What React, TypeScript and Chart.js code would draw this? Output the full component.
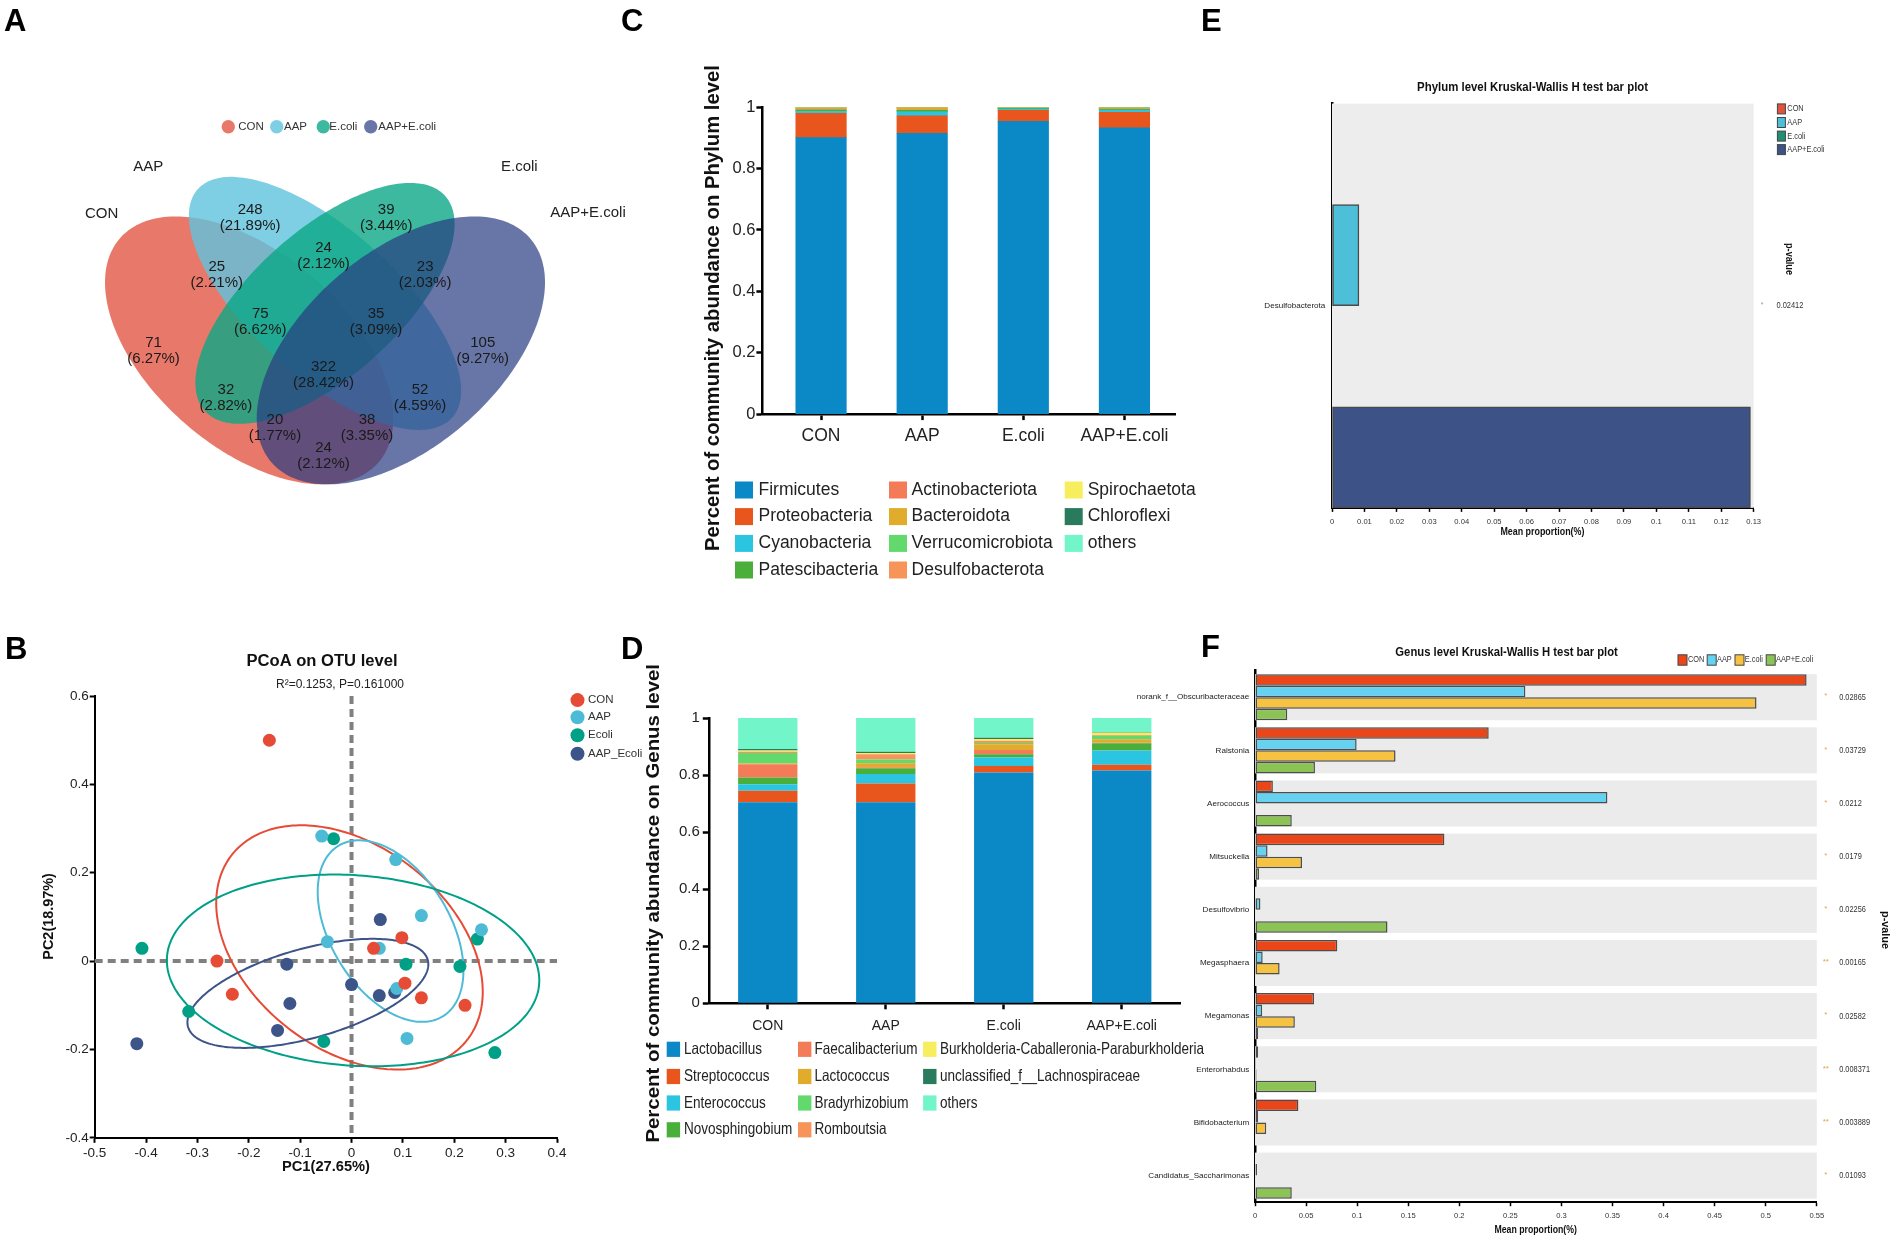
import React, { useEffect, useRef } from "react";
import { Chart, registerables } from "chart.js";

Chart.register(...registerables);

/* ========================= DATA ========================= */

// ---- A: Venn diagram of OTUs ----
const vennSets = ["CON", "AAP", "E.coli", "AAP+E.coli"];
const vennCounts = [248, 39, 24, 25, 23, 75, 35, 71, 105, 322, 32, 52, 20, 38, 24];
const vennPercents = ["21.89%", "3.44%", "2.12%", "2.21%", "2.03%", "6.62%", "3.09%", "6.27%", "9.27%", "28.42%", "2.82%", "4.59%", "1.77%", "3.35%", "2.12%"];
// region label anchors (venn unit space)
const vennLabelX = [0.352, 0.621, 0.497, 0.286, 0.698, 0.372, 0.601, 0.161, 0.812, 0.497, 0.304, 0.688, 0.401, 0.583, 0.497];
const vennLabelY = [0.752, 0.752, 0.672, 0.63, 0.63, 0.53, 0.53, 0.469, 0.469, 0.418, 0.368, 0.368, 0.306, 0.306, 0.245];
// ellipse shapes: [cx, cy, semi-axis a, semi-axis b, angle deg]
const vennEllipses = [
  [0.35, 0.47, 0.35, 0.2, 135],
  [0.5, 0.57, 0.35, 0.15, 135],
  [0.5, 0.57, 0.33, 0.15, 45],
  [0.65, 0.47, 0.35, 0.2, 45],
];

// ---- B: PCoA ----
const pcoaGroups = ["CON", "AAP", "Ecoli", "AAP_Ecoli"];
const pcoaCON = [[-0.16, 0.5], [-0.262, 0.0], [-0.232, -0.075], [0.043, 0.029], [0.098, 0.053], [0.104, -0.05], [0.136, -0.083], [0.221, -0.1]];
const pcoaAAP = [[-0.058, 0.283], [0.086, 0.23], [0.136, 0.103], [0.253, 0.071], [-0.047, 0.044], [0.054, 0.029], [0.088, -0.062], [0.108, -0.175]];
const pcoaEcoli = [[-0.035, 0.277], [-0.408, 0.029], [-0.317, -0.114], [-0.054, -0.182], [0.106, -0.007], [0.211, -0.012], [0.245, 0.05], [0.279, -0.207]];
const pcoaAAPEcoli = [[0.056, 0.094], [-0.126, -0.007], [-0.12, -0.096], [-0.144, -0.157], [-0.418, -0.187], [0.0, -0.053], [0.054, -0.078], [0.084, -0.071]];
// confidence ellipses: [cx, cy, a, b, angle deg] in data units
const pcoaEllipses = [
  [-0.004, 0.031, 0.3135, 0.2133, -50],
  [0.076, 0.068, 0.219, 0.12, -65.6],
  [0.003, -0.021, 0.3636, 0.2152, -5.5],
  [-0.085, -0.073, 0.2455, 0.0998, 18.9],
];

// ---- C: phylum composition ----
const phylumGroups = ["CON", "AAP", "E.coli", "AAP+E.coli"];
const phylumTaxa = ["Firmicutes", "Proteobacteria", "Cyanobacteria", "Patescibacteria", "Actinobacteriota", "Bacteroidota", "Verrucomicrobiota", "Desulfobacterota", "Spirochaetota", "Chloroflexi", "others"];
const phylumFirmicutes = [0.901, 0.915, 0.954, 0.933];
const phylumProteobacteria = [0.079, 0.057, 0.036, 0.05];
const phylumCyanobacteria = [0.006, 0.013, 0.004, 0.008];
const phylumPatescibacteria = [0.004, 0.005, 0.002, 0.002];
const phylumActinobacteriota = [0.002, 0.001, 0.0005, 0.001];
const phylumBacteroidota = [0.003, 0.006, 0.0005, 0.002];
const phylumVerrucomicrobiota = [0.002, 0.001, 0.001, 0.002];
const phylumDesulfobacterota = [0.001, 0.001, 0.0005, 0.0005];
const phylumSpirochaetota = [0.001, 0.0005, 0.0003, 0.0005];
const phylumChloroflexi = [0.0005, 0.0003, 0.0002, 0.0005];
const phylumOthers = [0.0005, 0.0002, 0.001, 0.0005];

// ---- D: genus composition ----
const genusGroups = ["CON", "AAP", "E.coli", "AAP+E.coli"];
const genusTaxa = ["Lactobacillus", "Streptococcus", "Enterococcus", "Novosphingobium", "Faecalibacterium", "Lactococcus", "Bradyrhizobium", "Romboutsia", "Burkholderia-Caballeronia-Paraburkholderia", "unclassified_f__Lachnospiraceae", "others"];
const genusLactobacillus = [0.705, 0.705, 0.809, 0.816];
const genusStreptococcus = [0.04, 0.066, 0.023, 0.02];
const genusEnterococcus = [0.023, 0.033, 0.031, 0.05];
const genusNovosphingobium = [0.024, 0.02, 0.01, 0.026];
const genusFaecalibacterium = [0.046, 0.004, 0.015, 0.002];
const genusLactococcus = [0.003, 0.014, 0.02, 0.012];
const genusBradyrhizobium = [0.037, 0.013, 0.005, 0.012];
const genusRomboutsia = [0.004, 0.018, 0.008, 0.003];
const genusBurkholderia = [0.004, 0.005, 0.006, 0.008];
const genusLachnospiraceae = [0.006, 0.004, 0.004, 0.001];
const genusOthers = [0.108, 0.118, 0.069, 0.05];

// ---- E: phylum Kruskal-Wallis ----
const kwGroups = ["CON", "AAP", "E.coli", "AAP+E.coli"];
const kwPhylumTaxa = ["Desulfobacterota"];
const kwPhylumCON = [0];
const kwPhylumAAP = [0.0083];
const kwPhylumEcoli = [0];
const kwPhylumAAPEcoli = [0.129];
const kwPhylumP = ["0.02412"];
const kwPhylumStars = ["*"];
const kwPhylumTicks = { min: 0, max: 0.13, step: 0.01 };

// ---- F: genus Kruskal-Wallis ----
const kwGenusTaxa = ["norank_f__Obscuribacteraceae", "Ralstonia", "Aerococcus", "Mitsuckella", "Desulfovibrio", "Megasphaera", "Megamonas", "Enterorhabdus", "Bifidobacterium", "Candidatus_Saccharimonas"];
const kwGenusCON = [0.54, 0.2288, 0.0175, 0.1854, 0, 0.0806, 0.0578, 0.003, 0.0425, 0];
const kwGenusAAP = [0.2647, 0.0995, 0.345, 0.0123, 0.0053, 0.0075, 0.007, 0.001, 0.003, 0.002];
const kwGenusEcoli = [0.491, 0.1376, 0.001, 0.046, 0, 0.0241, 0.039, 0.0015, 0.011, 0];
const kwGenusAAPEcoli = [0.0316, 0.0587, 0.036, 0.004, 0.1297, 0, 0.003, 0.06, 0, 0.036];
const kwGenusP = ["0.02865", "0.03729", "0.0212", "0.0179", "0.02256", "0.00165", "0.02582", "0.008371", "0.003889", "0.01093"];
const kwGenusStars = ["*", "*", "*", "*", "*", "**", "*", "**", "**", "*"];
const kwGenusTicks = { min: 0, max: 0.55, step: 0.05 };

/* ========================= STYLE ========================= */
const SANS = "'Liberation Sans', Arial, Helvetica, sans-serif";
let NARROW_OK: boolean | null = null;
function narrowOk() {
  if (NARROW_OK === null) {
    const c = document.createElement("canvas").getContext("2d");
    if (!c) return (NARROW_OK = false);
    const s = "abcdefghijklmnopqrstuvwxyzABCDEFGHIJ0123456789";
    c.font = "20px monospace";
    const w1 = c.measureText(s).width;
    c.font = "20px 'Liberation Sans Narrow', monospace";
    const w2 = c.measureText(s).width;
    NARROW_OK = Math.abs(w1 - w2) > 0.5;
  }
  return NARROW_OK;
}
const narrowFamily = () => (narrowOk() ? "'Liberation Sans Narrow', 'Arial Narrow', sans-serif" : SANS);
// size for a Chart.js tick font meant to be condensed (smaller when no narrow face exists)
const nSize = (s: number) => (narrowOk() ? s : s * 0.85);

const vennFill = ["rgba(226,88,69,0.8)", "rgba(95,195,221,0.8)", "rgba(11,168,134,0.8)", "rgba(40,60,130,0.7)"];
const pcoaColors = ["#E64B35", "#4DBBD5", "#00A087", "#3C5488"];
const compColors = ["#0A89C6", "#E8561E", "#2BC5E2", "#4AAE3B", "#F47B58", "#E1AB2C", "#62D96C", "#F7945A", "#F6EE5C", "#2A7A5E", "#72F5C8"];
const kwPhylumColors = ["#E0533D", "#4DBFD9", "#1F8F76", "#3D5286"];
const kwGenusColors = ["#EB4619", "#64D2F0", "#F5C341", "#8CC355"];

const PA = { x: 0, y: 0, w: 680, h: 610 };
const PB = { x: 0, y: 610, w: 680, h: 638 };
const PC = { x: 620, y: 0, w: 580, h: 610 };
const PD = { x: 620, y: 610, w: 600, h: 638 };
const PE = { x: 1200, y: 0, w: 702, h: 610 };
const PF = { x: 1080, y: 610, w: 822, h: 638 };

/* ========================= HELPERS ========================= */
type Txt = { t: string; x: number; y: number; size: number; bold?: boolean; narrow?: boolean; color?: string; align?: CanvasTextAlign; rot?: number; fit?: number };

function drawTexts(ctx: CanvasRenderingContext2D, P: any, list: Txt[]) {
  list.forEach((it) => {
    ctx.save();
    ctx.translate(it.x - P.x, it.y - P.y);
    if (it.rot) ctx.rotate((it.rot * Math.PI) / 180);
    ctx.font = `${it.bold ? "bold " : ""}${it.size}px ${it.narrow ? narrowFamily() : SANS}`;
    ctx.fillStyle = it.color || "#111";
    ctx.textAlign = it.align || "center";
    ctx.textBaseline = "middle";
    let sx = 1;
    if (it.fit) {
      const w = ctx.measureText(it.t).width;
      if (w > 0) sx = it.fit / w;
    } else if (it.narrow && !narrowOk()) sx = 0.82;
    if (sx !== 1) ctx.scale(sx, 1);
    ctx.fillText(it.t, 0, 0);
    ctx.restore();
  });
}

function pad(P: any, a: any, wy: number, hx: number) {
  return { left: a.l - P.x - wy, right: P.x + P.w - a.r, top: a.t - P.y, bottom: P.y + P.h - a.b - hx };
}

function ellipsePath(ctx: CanvasRenderingContext2D, xs: any, ys: any, e: number[]) {
  const [cx, cy, a, b, ang] = e;
  const th = (ang * Math.PI) / 180;
  ctx.beginPath();
  for (let k = 0; k <= 240; k++) {
    const t = (k / 240) * Math.PI * 2;
    const ux = cx + a * Math.cos(t) * Math.cos(th) - b * Math.sin(t) * Math.sin(th);
    const uy = cy + a * Math.cos(t) * Math.sin(th) + b * Math.sin(t) * Math.cos(th);
    const px = xs.getPixelForValue(ux);
    const py = ys.getPixelForValue(uy);
    if (k === 0) ctx.moveTo(px, py);
    else ctx.lineTo(px, py);
  }
  ctx.closePath();
}

const fmt = (v: any) => String(Number(Number(v).toFixed(4)));

function common(padding: any) {
  return {
    animation: false as const,
    responsive: false,
    maintainAspectRatio: false,
    events: [] as any[],
    layout: { padding },
    plugins: { legend: { display: false }, tooltip: { enabled: false }, title: { display: false } },
  };
}

/* ========================= PANEL A ========================= */
function makeA(canvas: HTMLCanvasElement) {
  const P = PA;
  const area = { l: 72.15, r: 577.85, t: 101.3, b: 571.3 };
  return new Chart(canvas, {
    type: "scatter",
    data: { datasets: [{ data: vennLabelX.map((x, i) => ({ x, y: vennLabelY[i] })), pointRadius: 0 }] },
    options: {
      ...common(pad(P, area, 0, 0)),
      scales: {
        x: { type: "linear", display: false, min: 0, max: 1 },
        y: { type: "linear", display: false, min: 0, max: 1 },
      },
    } as any,
    plugins: [
      {
        id: "vennA",
        beforeDatasetsDraw(chart: any) {
          const { ctx, scales } = chart;
          vennEllipses.forEach((e, i) => {
            ctx.save();
            ellipsePath(ctx, scales.x, scales.y, e);
            ctx.fillStyle = vennFill[i];
            ctx.fill();
            ctx.restore();
          });
        },
        afterDatasetsDraw(chart: any) {
          const ctx = chart.ctx;
          const meta = chart.getDatasetMeta(0);
          ctx.save();
          ctx.font = `15px ${SANS}`;
          ctx.fillStyle = "#1a1a1a";
          ctx.textAlign = "center";
          ctx.textBaseline = "middle";
          meta.data.forEach((pt: any, i: number) => {
            ctx.fillText(String(vennCounts[i]), pt.x, pt.y - 8);
            ctx.fillText(`(${vennPercents[i]})`, pt.x, pt.y + 8);
          });
          ctx.restore();
        },
        afterDraw(chart: any) {
          const ctx = chart.ctx;
          drawTexts(ctx, P, [
            { t: "A", x: 4, y: 22, size: 31, bold: true, align: "left", color: "#000" },
            { t: vennSets[1], x: 148.3, y: 166.7, size: 15, color: "#222" },
            { t: vennSets[2], x: 519.3, y: 166.7, size: 15, color: "#222" },
            { t: vennSets[0], x: 101.7, y: 214, size: 15, color: "#222" },
            { t: vennSets[3], x: 588, y: 213.3, size: 15, color: "#222" },
          ]);
          const cxs = [228.3, 276.7, 323.3, 370.7];
          const txs = [238.3, 284, 329.3, 378.3];
          vennSets.forEach((s, i) => {
            ctx.save();
            ctx.beginPath();
            ctx.arc(cxs[i] - P.x, 126.7 - P.y, 6.7, 0, Math.PI * 2);
            ctx.fillStyle = vennFill[i];
            ctx.fill();
            ctx.restore();
          });
          drawTexts(ctx, P, vennSets.map((s, i) => ({ t: s, x: txs[i], y: 126.7, size: 11.5, align: "left" as CanvasTextAlign, color: "#333" })));
        },
      },
    ],
  });
}

/* ========================= PANEL B ========================= */
function axisStyle(extra: any) {
  return {
    border: { display: true, color: "#000", width: 2 },
    grid: { display: true, drawOnChartArea: false, drawTicks: true, tickLength: 5, tickColor: "#000", tickWidth: 2 },
    ...extra,
  };
}

function makeB(canvas: HTMLCanvasElement) {
  const P = PB;
  const area = { l: 94.7, r: 557, t: 696.1, b: 1137.8 };
  const series = [pcoaCON, pcoaAAP, pcoaEcoli, pcoaAAPEcoli];
  return new Chart(canvas, {
    type: "scatter",
    data: {
      datasets: series.map((pts, k) => ({
        label: pcoaGroups[k],
        data: pts.map(([x, y]) => ({ x, y })),
        pointRadius: 6.5,
        pointBackgroundColor: pcoaColors[k],
        pointBorderWidth: 0,
      })),
    },
    options: {
      ...common(pad(P, area, 50, 30)),
      scales: {
        x: axisStyle({
          type: "linear",
          min: -0.5,
          max: 0.4,
          bounds: "data",
          ticks: { stepSize: 0.1, callback: fmt, font: { family: SANS, size: 13.5 }, color: "#222", padding: 2, maxRotation: 0, autoSkip: false },
          afterFit: (s: any) => { s.height = 30; },
        }),
        y: axisStyle({
          type: "linear",
          min: -0.4,
          max: 0.6,
          bounds: "data",
          ticks: { stepSize: 0.2, callback: fmt, font: { family: SANS, size: 13.5 }, color: "#222", padding: 1 },
          afterFit: (s: any) => { s.width = 50; },
        }),
      },
    } as any,
    plugins: [
      {
        id: "pcoaB",
        beforeDatasetsDraw(chart: any) {
          const { ctx, scales, chartArea } = chart;
          const x0 = scales.x.getPixelForValue(0);
          const y0 = scales.y.getPixelForValue(0);
          ctx.save();
          ctx.strokeStyle = "#808080";
          ctx.lineWidth = 4;
          ctx.setLineDash([8, 5]);
          ctx.beginPath();
          ctx.moveTo(x0, chartArea.top);
          ctx.lineTo(x0, chartArea.bottom);
          ctx.moveTo(chartArea.left, y0);
          ctx.lineTo(chartArea.right, y0);
          ctx.stroke();
          ctx.restore();
          pcoaEllipses.forEach((e, i) => {
            ctx.save();
            ellipsePath(ctx, scales.x, scales.y, e);
            ctx.strokeStyle = pcoaColors[i];
            ctx.lineWidth = 2;
            ctx.stroke();
            ctx.restore();
          });
        },
        afterDraw(chart: any) {
          const ctx = chart.ctx;
          drawTexts(ctx, P, [
            { t: "B", x: 5, y: 650, size: 31, bold: true, align: "left", color: "#000" },
            { t: "PCoA on OTU level", x: 322, y: 662, size: 16, bold: true, fit: 151, color: "#111" },
            { t: "R²=0.1253, P=0.161000", x: 340, y: 684.1, size: 12.5, fit: 128, color: "#222" },
            { t: "PC1(27.65%)", x: 326, y: 1166.7, size: 14, bold: true, fit: 88, color: "#111" },
            { t: "PC2(18.97%)", x: 49, y: 916.4, size: 14, bold: true, rot: -90, fit: 86.5, color: "#111" },
          ]);
          const ys = [700.1, 717.3, 735.3, 753.8];
          pcoaGroups.forEach((g, i) => {
            ctx.save();
            ctx.beginPath();
            ctx.arc(577.5 - P.x, ys[i] - P.y, 7, 0, Math.PI * 2);
            ctx.fillStyle = pcoaColors[i];
            ctx.fill();
            ctx.restore();
          });
          drawTexts(ctx, P, pcoaGroups.map((g, i) => ({ t: g, x: 588, y: ys[i], size: 11.5, align: "left" as CanvasTextAlign, color: "#333" })));
        },
      },
    ],
  });
}

/* ========================= PANEL C ========================= */
function makeC(canvas: HTMLCanvasElement) {
  const P = PC;
  const area = { l: 762.4, r: 1175, t: 107.2, b: 414.1 };
  const series = [phylumFirmicutes, phylumProteobacteria, phylumCyanobacteria, phylumPatescibacteria, phylumActinobacteriota, phylumBacteroidota, phylumVerrucomicrobiota, phylumDesulfobacterota, phylumSpirochaetota, phylumChloroflexi, phylumOthers];
  return new Chart(canvas, {
    type: "bar",
    data: {
      datasets: series.map((vals, k) => ({
        label: phylumTaxa[k],
        data: vals.map((v, i) => ({ x: i, y: v })),
        backgroundColor: compColors[k],
        borderWidth: 0,
        barThickness: 50.5,
      })),
    },
    options: {
      ...common(pad(P, area, 40, 40)),
      scales: {
        x: {
          type: "linear",
          min: -0.58,
          max: 3.5,
          bounds: "data",
          offset: false,
          stacked: true,
          afterBuildTicks: (s: any) => { s.ticks = phylumGroups.map((_, i) => ({ value: i })); },
          ticks: { callback: (v: any) => phylumGroups[Number(v)] ?? "", font: { family: SANS, size: 17.5 }, color: "#222", padding: 6, autoSkip: false, maxRotation: 0 },
          border: { display: true, color: "#000", width: 2.5 },
          grid: { display: true, offset: false, drawOnChartArea: false, drawTicks: true, tickLength: 6, tickColor: "#000", tickWidth: 2.5 },
          afterFit: (s: any) => { s.height = 40; },
        },
        y: {
          type: "linear",
          min: 0,
          max: 1,
          bounds: "data",
          stacked: true,
          ticks: { stepSize: 0.2, callback: fmt, font: { family: SANS, size: 16.5 }, color: "#222", padding: 1 },
          border: { display: true, color: "#000", width: 2.5 },
          grid: { display: true, drawOnChartArea: false, drawTicks: true, tickLength: 6, tickColor: "#000", tickWidth: 2.5 },
          afterFit: (s: any) => { s.width = 40; },
        },
      },
    } as any,
    plugins: [
      {
        id: "compC",
        afterDraw(chart: any) {
          const ctx = chart.ctx;
          drawTexts(ctx, P, [
            { t: "C", x: 621, y: 22, size: 31, bold: true, align: "left", color: "#000" },
            { t: "Percent of community abundance on Phylum level", x: 714, y: 308, size: 19.5, bold: true, rot: -90, fit: 486, color: "#111" },
          ]);
          const swX = [735, 889, 1064.7];
          const txX = [758.5, 911.6, 1087.7];
          const rowY = [490, 516.6, 543.4, 570];
          phylumTaxa.forEach((name, k) => {
            const c = Math.floor(k / 4);
            const r = k % 4;
            ctx.fillStyle = compColors[k];
            ctx.fillRect(swX[c] - P.x, rowY[r] - 8.5 - P.y, 18, 17);
            drawTexts(ctx, P, [{ t: name, x: txX[c], y: rowY[r], size: 17.5, align: "left", color: "#222" }]);
          });
        },
      },
    ],
  });
}

/* ========================= PANEL D ========================= */
function makeD(canvas: HTMLCanvasElement) {
  const P = PD;
  const area = { l: 708.8, r: 1180.7, t: 718.1, b: 1003.3 };
  const series = [genusLactobacillus, genusStreptococcus, genusEnterococcus, genusNovosphingobium, genusFaecalibacterium, genusLactococcus, genusBradyrhizobium, genusRomboutsia, genusBurkholderia, genusLachnospiraceae, genusOthers];
  const nf = narrowFamily();
  return new Chart(canvas, {
    type: "bar",
    data: {
      labels: genusGroups,
      datasets: series.map((vals, k) => ({
        label: genusTaxa[k],
        data: vals,
        backgroundColor: compColors[k],
        borderWidth: 0,
        barPercentage: 0.503,
        categoryPercentage: 1,
      })),
    },
    options: {
      ...common(pad(P, area, 80, 35)),
      scales: {
        x: {
          stacked: true,
          ticks: { font: { family: nf, size: nSize(16.5) }, color: "#222", padding: 8, autoSkip: false, maxRotation: 0 },
          border: { display: true, color: "#000", width: 2.5 },
          grid: { display: true, offset: false, drawOnChartArea: false, drawTicks: true, tickLength: 6, tickColor: "#000", tickWidth: 2.5 },
          afterFit: (s: any) => { s.height = 35; },
        },
        y: {
          type: "linear",
          min: 0,
          max: 1,
          bounds: "data",
          stacked: true,
          ticks: { stepSize: 0.2, callback: fmt, font: { family: SANS, size: 15 }, color: "#222", padding: 3 },
          border: { display: true, color: "#000", width: 2.5 },
          grid: { display: true, drawOnChartArea: false, drawTicks: true, tickLength: 6, tickColor: "#000", tickWidth: 2.5 },
          afterFit: (s: any) => { s.width = 80; },
        },
      },
    } as any,
    plugins: [
      {
        id: "compD",
        afterDraw(chart: any) {
          const ctx = chart.ctx;
          drawTexts(ctx, P, [
            { t: "D", x: 621, y: 650, size: 31, bold: true, align: "left", color: "#000" },
            { t: "Percent of community abundance on Genus level", x: 653.7, y: 903.3, size: 19, bold: true, rot: -90, fit: 478.6, color: "#111" },
          ]);
          const swX = [666.7, 798, 923.1];
          const txX = [683.9, 814.4, 940];
          const rowY = [1049.3, 1076.5, 1103, 1129.8];
          genusTaxa.forEach((name, k) => {
            const c = Math.floor(k / 4);
            const r = k % 4;
            ctx.fillStyle = compColors[k];
            ctx.fillRect(swX[c] - P.x, rowY[r] - 7.6 - P.y, 13.4, 15.2);
            drawTexts(ctx, P, [{ t: name, x: txX[c], y: rowY[r], size: 16.5, narrow: true, align: "left", color: "#222" }]);
          });
        },
      },
    ],
  });
}

/* ========================= KW helpers ========================= */
function bandPlugin(frac: number, color: string) {
  return {
    id: "bands",
    beforeDatasetsDraw(chart: any) {
      const { ctx, chartArea, scales } = chart;
      const ys = scales.y;
      const n = chart.data.labels.length;
      const step = (ys.bottom - ys.top) / n;
      ctx.save();
      ctx.fillStyle = color;
      for (let i = 0; i < n; i++) {
        const c = ys.getPixelForValue(i);
        const h = step * frac;
        ctx.fillRect(chartArea.left, c - h / 2, chartArea.right - chartArea.left, h);
      }
      ctx.restore();
    },
  };
}

function kwScales(ticks: any, nf: string, labelPad: number, xPad: number, wy: number) {
  return {
    x: {
      type: "linear",
      min: ticks.min,
      max: ticks.max,
      bounds: "data",
      ticks: { stepSize: ticks.step, callback: fmt, font: { family: nf, size: narrowOk() ? 8.5 : 7.6 }, color: "#333", padding: xPad, maxRotation: 0, autoSkip: false },
      border: { display: true, color: "#000", width: 2 },
      grid: { display: true, drawOnChartArea: false, drawTicks: true, tickLength: 4, tickColor: "#000", tickWidth: 1.5 },
      afterFit: (s: any) => { s.height = 30; },
    },
    y: {
      ticks: { font: { family: nf, size: nSize(9.5) }, color: "#222", padding: labelPad, autoSkip: false },
      border: { display: true, color: "#000", width: 2.5 },
      grid: { display: true, drawOnChartArea: false, drawTicks: false },
      afterFit: (s: any) => { s.width = wy; },
    },
  };
}

/* ========================= PANEL E ========================= */
function makeE(canvas: HTMLCanvasElement) {
  const P = PE;
  const area = { l: 1332, r: 1753.7, t: 103.6, b: 507.9 };
  const series = [kwPhylumCON, kwPhylumAAP, kwPhylumEcoli, kwPhylumAAPEcoli];
  const nf = narrowFamily();
  const wy = area.l - P.x;
  return new Chart(canvas, {
    type: "bar",
    data: {
      labels: kwPhylumTaxa,
      datasets: series.map((vals, k) => ({
        label: kwGroups[k],
        data: vals,
        backgroundColor: kwPhylumColors[k],
        borderColor: "#4a4a4a",
        borderWidth: 1.5,
        borderSkipped: false,
        categoryPercentage: 1,
        barPercentage: 1,
      })),
    },
    options: {
      ...common(pad(P, area, wy, 30)),
      indexAxis: "y",
      scales: kwScales(kwPhylumTicks, nf, 6.7, 5, wy),
    } as any,
    plugins: [
      bandPlugin(1, "#ededed"),
      {
        id: "kwE",
        afterDraw(chart: any) {
          const ctx = chart.ctx;
          const ys = chart.scales.y;
          const list: Txt[] = [
            { t: "E", x: 1201, y: 22, size: 31, bold: true, align: "left", color: "#000" },
            { t: "Phylum level Kruskal-Wallis H test bar plot", x: 1532.6, y: 87.5, size: 13, bold: true, narrow: true, fit: 231, color: "#111" },
            { t: "Mean proportion(%)", x: 1542.4, y: 532.1, size: 10, bold: true, narrow: true, fit: 84, color: "#111" },
            { t: "p-value", x: 1788.6, y: 259, size: 10, bold: true, rot: 90, fit: 32, color: "#111" },
          ];
          kwPhylumTaxa.forEach((_, i) => {
            const yy = ys.getPixelForValue(i) + P.y;
            list.push({ t: kwPhylumStars[i], x: 1762.2, y: yy - 1, size: 7, color: "#999" });
            list.push({ t: kwPhylumP[i], x: 1776.5, y: yy, size: 9, narrow: true, fit: 26.9, align: "left", color: "#333" });
          });
          drawTexts(ctx, P, list);
          const rowY = [108.9, 122.5, 136.1, 149.6];
          kwGroups.forEach((g, i) => {
            ctx.save();
            ctx.fillStyle = kwPhylumColors[i];
            ctx.strokeStyle = "#444";
            ctx.lineWidth = 1;
            ctx.fillRect(1777.4 - P.x, rowY[i] - 5 - P.y, 8, 10);
            ctx.strokeRect(1777.4 - P.x, rowY[i] - 5 - P.y, 8, 10);
            ctx.restore();
          });
          drawTexts(ctx, P, kwGroups.map((g, i) => ({ t: g, x: 1787.3, y: rowY[i], size: 9, narrow: true, align: "left" as CanvasTextAlign, color: "#333" })));
        },
      },
    ],
  });
}

/* ========================= PANEL F ========================= */
function makeF(canvas: HTMLCanvasElement) {
  const P = PF;
  const area = { l: 1255, r: 1816.8, t: 670.6, b: 1202.2 };
  const series = [kwGenusCON, kwGenusAAP, kwGenusEcoli, kwGenusAAPEcoli];
  const nf = narrowFamily();
  const wy = area.l - P.x;
  return new Chart(canvas, {
    type: "bar",
    data: {
      labels: kwGenusTaxa,
      datasets: series.map((vals, k) => ({
        label: kwGroups[k],
        data: vals,
        backgroundColor: kwGenusColors[k],
        borderColor: "#4d4d4d",
        borderWidth: 1.5,
        borderSkipped: false,
        categoryPercentage: 0.867,
        barPercentage: 1,
      })),
    },
    options: {
      ...common(pad(P, area, wy, 30)),
      indexAxis: "y",
      scales: kwScales(kwGenusTicks, nf, 5.8, 5.4, wy),
    } as any,
    plugins: [
      bandPlugin(0.867, "#ebebeb"),
      {
        id: "kwF",
        afterDraw(chart: any) {
          const ctx = chart.ctx;
          const ys = chart.scales.y;
          const list: Txt[] = [
            { t: "F", x: 1201, y: 648, size: 31, bold: true, align: "left", color: "#000" },
            { t: "Genus level Kruskal-Wallis H test bar plot", x: 1506.6, y: 652, size: 13, bold: true, narrow: true, fit: 222.5, color: "#111" },
            { t: "Mean proportion(%)", x: 1535.7, y: 1230.7, size: 10, bold: true, narrow: true, fit: 82.4, color: "#111" },
            { t: "p-value", x: 1884.9, y: 930, size: 10.5, bold: true, rot: 90, fit: 38, color: "#111" },
          ];
          kwGenusTaxa.forEach((_, i) => {
            const yy = ys.getPixelForValue(i) + P.y;
            list.push({ t: kwGenusStars[i], x: 1825.8, y: yy - 1, size: 8, color: "#E3A44A" });
            list.push({ t: kwGenusP[i], x: 1839.2, y: yy, size: 9, narrow: true, align: "left", color: "#333" });
          });
          drawTexts(ctx, P, list);
          const sqX = [1678, 1707.2, 1735, 1766.2];
          const txX = [1688, 1717, 1744.8, 1776];
          kwGroups.forEach((g, i) => {
            ctx.save();
            ctx.fillStyle = kwGenusColors[i];
            ctx.strokeStyle = "#444";
            ctx.lineWidth = 1;
            ctx.fillRect(sqX[i] - P.x, 660 - 5.2 - P.y, 9, 10.4);
            ctx.strokeRect(sqX[i] - P.x, 660 - 5.2 - P.y, 9, 10.4);
            ctx.restore();
          });
          drawTexts(ctx, P, kwGroups.map((g, i) => ({ t: g, x: txX[i], y: 660, size: 9, narrow: true, align: "left" as CanvasTextAlign, color: "#333" })));
        },
      },
    ],
  });
}

/* ========================= REACT ========================= */
function ChartCanvas({ panel, make }: { panel: any; make: (c: HTMLCanvasElement) => Chart }) {
  const ref = useRef<HTMLCanvasElement>(null);
  useEffect(() => {
    if (!ref.current) return;
    const ch = make(ref.current);
    return () => ch.destroy();
  }, []);
  return (
    <canvas
      ref={ref}
      width={panel.w}
      height={panel.h}
      style={{ position: "absolute", left: panel.x, top: panel.y, width: panel.w, height: panel.h, display: "block" }}
    />
  );
}

export default function App() {
  return (
    <div style={{ position: "absolute", left: 0, top: 0, width: 1902, height: 1248, background: "#fff", overflow: "hidden" }}>
      <ChartCanvas panel={PA} make={makeA} />
      <ChartCanvas panel={PB} make={makeB} />
      <ChartCanvas panel={PC} make={makeC} />
      <ChartCanvas panel={PD} make={makeD} />
      <ChartCanvas panel={PE} make={makeE} />
      <ChartCanvas panel={PF} make={makeF} />
    </div>
  );
}
